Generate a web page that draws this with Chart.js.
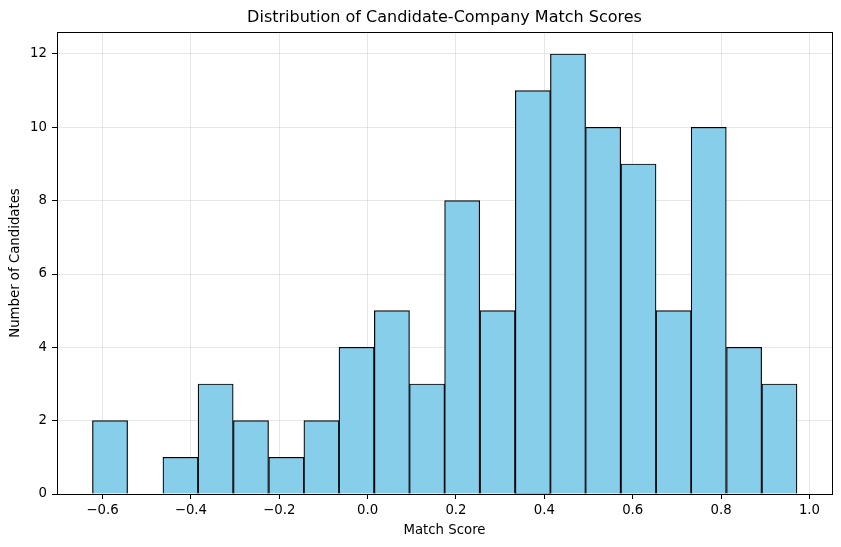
<!DOCTYPE html>
<html>
<head>
<meta charset="utf-8">
<script src="https://cdn.jsdelivr.net/npm/chart.js@4"></script>
<style>
  html, body { margin: 0; padding: 0; background: #fff; }
  canvas { display: block; }
</style>
</head>
<body>
<canvas id="histChart" width="841" height="547"></canvas>
<script>
// histogram data
const binEdges = [-0.623, -0.543, -0.463, -0.384, -0.304, -0.224, -0.144, -0.065, 0.015, 0.095, 0.174,
                  0.254, 0.334, 0.414, 0.493, 0.573, 0.653, 0.732, 0.812, 0.892, 0.972];
const counts = [2, 0, 1, 3, 2, 1, 2, 4, 5, 3, 8, 5, 11, 12, 10, 9, 5, 10, 4, 3];
const xTicks = [-0.6, -0.4, -0.2, 0.0, 0.2, 0.4, 0.6, 0.8, 1.0];
const yTicks = [0, 2, 4, 6, 8, 10, 12];

const points = counts.map((c, i) => ({ x: (binEdges[i] + binEdges[i + 1]) / 2, y: c }));

const FONT = 'DejaVu Sans';
const gridColor = 'rgba(176,176,176,0.3)';

// top and right spines
const frame = {
    id: 'frame',
    afterDraw(chart) {
        const a = chart.chartArea, c = chart.ctx;
        c.save();
        c.strokeStyle = '#000';
        c.lineWidth = 1;
        c.strokeRect(Math.round(a.left) + 0.5, Math.round(a.top) + 0.5,
                     Math.round(a.right - a.left), Math.round(a.bottom - a.top));
        c.restore();
    }
};

const ctx = document.getElementById('histChart').getContext('2d');
new Chart(ctx, {
    type: 'bar',
    data: {
        datasets: [{
            data: points,
            backgroundColor: '#87CEEB',
            borderColor: '#000',
            borderWidth: 1.2,
            barPercentage: 1,
            categoryPercentage: 1
        }]
    },
    options: {
        responsive: false,
        animation: false,
        layout: { padding: { left: 0, right: 9, top: 0, bottom: 0 } },
        plugins: {
            legend: { display: false },
            tooltip: { enabled: false },
            title: {
                display: true,
                fullSize: false,
                text: 'Distribution of Candidate-Company Match Scores',
                color: '#000',
                font: { family: FONT, size: 16, weight: 'normal', lineHeight: 1.2 },
                padding: { top: 8, bottom: 4.8 }
            }
        },
        scales: {
            x: {
                type: 'linear',
                min: -0.703,
                max: 1.051,
                offset: false,
                z: 1,
                afterBuildTicks: s => { s.ticks = xTicks.map(v => ({ value: v })); },
                afterFit: s => { s.height = 53; },
                grid: { color: gridColor, offset: false, tickColor: '#000', tickLength: 5, drawTicks: true },
                border: { display: true, color: '#000', width: 1 },
                ticks: {
                    color: '#000',
                    padding: 4,
                    maxRotation: 0,
                    autoSkip: false,
                    font: { family: FONT, size: 13.3 },
                    callback: v => v.toFixed(1).replace('-', '\u2212')
                },
                title: {
                    display: true,
                    text: 'Match Score',
                    color: '#000',
                    font: { family: FONT, size: 13.3, lineHeight: 1.2 },
                    padding: { top: 0, bottom: 8 }
                }
            },
            y: {
                min: 0,
                max: 12.6,
                z: 1,
                afterBuildTicks: s => { s.ticks = yTicks.map(v => ({ value: v })); },
                afterFit: s => { s.width = 57; },
                grid: { color: gridColor, tickColor: '#000', tickLength: 5 },
                border: { display: true, color: '#000', width: 1 },
                ticks: {
                    color: '#000',
                    padding: 5,
                    font: { family: FONT, size: 13.3 },
                    callback: v => String(v)
                },
                title: {
                    display: true,
                    text: 'Number of Candidates',
                    color: '#000',
                    font: { family: FONT, size: 13.3, lineHeight: 1.2 },
                    padding: { top: 8, bottom: 0 }
                }
            }
        }
    },
    plugins: [frame]
});
</script>
</body>
</html>
